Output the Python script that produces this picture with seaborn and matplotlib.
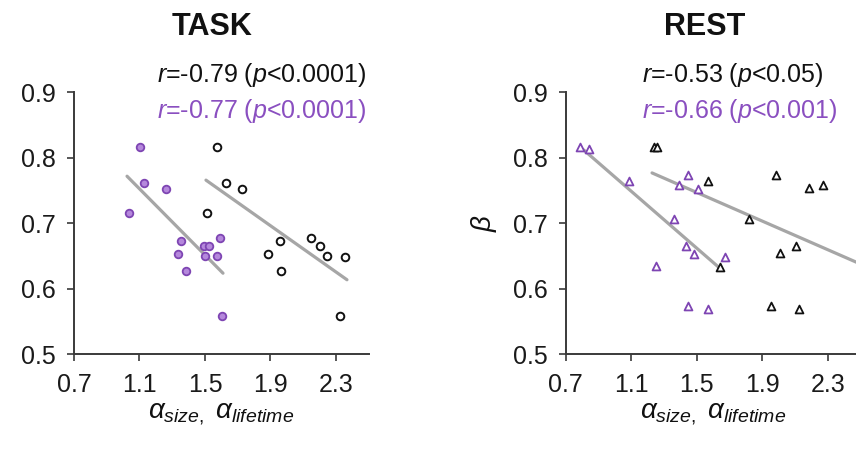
import numpy as np
import seaborn as sns
import matplotlib.pyplot as plt

# valores
task_purple_x = [1.105, 1.125, 1.262, 1.034, 1.355, 1.333, 1.386, 1.492, 1.523, 1.502, 1.593, 1.573, 1.606]
task_purple_y = [0.816, 0.761, 0.752, 0.716, 0.673, 0.654, 0.627, 0.666, 0.665, 0.650, 0.677, 0.650, 0.559]
task_black_x = [1.573, 1.630, 1.726, 1.512, 1.960, 1.887, 1.966, 2.147, 2.200, 2.245, 2.357, 2.323]
task_black_y = [0.816, 0.761, 0.752, 0.716, 0.673, 0.654, 0.627, 0.677, 0.666, 0.650, 0.649, 0.559]

rest_purple_x = [0.790, 0.840, 1.085, 1.254, 1.360, 1.394, 1.447, 1.435, 1.482, 1.508, 1.447, 1.569, 1.671]
rest_purple_y = [0.816, 0.814, 0.765, 0.635, 0.706, 0.759, 0.774, 0.665, 0.654, 0.752, 0.574, 0.569, 0.648]
rest_black_x = [1.240, 1.258, 1.569, 1.822, 1.984, 2.184, 2.270, 2.011, 2.103, 1.956, 2.127, 1.639]
rest_black_y = [0.816, 0.816, 0.765, 0.706, 0.774, 0.754, 0.759, 0.655, 0.665, 0.574, 0.569, 0.633]

# rectas de ajuste (extremos)
task_fit_purple_x = [1.024, 1.610]
task_fit_purple_y = [0.772, 0.624]
task_fit_black_x = [1.506, 2.367]
task_fit_black_y = [0.766, 0.614]
rest_fit_purple_x = [0.810, 1.639]
rest_fit_purple_y = [0.812, 0.632]
rest_fit_black_x = [1.227, 2.500]
rest_fit_black_y = [0.777, 0.638]

x_ticks = [0.7, 1.1, 1.5, 1.9, 2.3]
y_ticks = [0.5, 0.6, 0.7, 0.8, 0.9]

task_r_black = '$r$=-0.79 ($p$<0.0001)'
task_r_purple = '$r$=-0.77 ($p$<0.0001)'
rest_r_black = '$r$=-0.53 ($p$<0.05)'
rest_r_purple = '$r$=-0.66 ($p$<0.001)'

PURPLE_FACE = '#b588dc'
PURPLE_EDGE = '#7e45b3'
PURPLE_TEXT = '#8a4fc0'
GRIS = '#a6a6a6'
EJE = '#3a3a3a'

sns.set_style('white')
plt.rcParams['font.family'] = ['Liberation Sans', 'DejaVu Sans']
plt.rcParams['mathtext.fontset'] = 'custom'
plt.rcParams['mathtext.rm'] = 'Liberation Sans'
plt.rcParams['mathtext.it'] = 'Liberation Sans:italic'
plt.rcParams['text.color'] = '#111111'
plt.rcParams['axes.labelcolor'] = '#111111'

fig = plt.figure(figsize=(8.56, 4.54), dpi=100)
ax1 = fig.add_axes([0.0864, 0.2192, 0.3444, 0.5775])
ax2 = fig.add_axes([0.6609, 0.2192, 0.3444, 0.5775])


def estilo(ax):
    ax.set_xlim(0.7, 2.5)
    ax.set_ylim(0.5, 0.9)
    ax.set_xticks(x_ticks)
    ax.set_yticks(y_ticks)
    ax.set_xticklabels([f'{v:.1f}' for v in x_ticks])
    ax.set_yticklabels([f'{v:.1f}' for v in y_ticks])
    for s in ['top', 'right']:
        ax.spines[s].set_visible(False)
    for s in ['left', 'bottom']:
        ax.spines[s].set_color(EJE)
        ax.spines[s].set_linewidth(1.4)
    ax.tick_params(axis='both', direction='out', length=5, width=1.2, color=EJE,
                   labelsize=18, labelcolor='#1a1a1a', pad=8, left=True, bottom=True)
    ax.set_xlabel(r'$\alpha_{size,}\ \alpha_{lifetime}$', fontsize=20, labelpad=3)
    ax.patch.set_alpha(0)


# TASK
sns.lineplot(x=task_fit_purple_x, y=task_fit_purple_y, color=GRIS, lw=2.3, ax=ax1, zorder=1)
sns.lineplot(x=task_fit_black_x, y=task_fit_black_y, color=GRIS, lw=2.3, ax=ax1, zorder=1)
sns.scatterplot(x=task_purple_x, y=task_purple_y, marker='o', s=30, color=PURPLE_FACE,
                edgecolor=PURPLE_EDGE, linewidth=1.3, ax=ax1, zorder=3)
sns.scatterplot(x=task_black_x, y=task_black_y, marker='o', s=30, color='white',
                edgecolor='#111111', linewidth=1.4, ax=ax1, zorder=3)
estilo(ax1)
ax1.text(0.47, 1.25, 'TASK', transform=ax1.transAxes, ha='center', va='center',
         fontsize=22, fontweight='bold')
ax1.text(0.282, 1.066, task_r_black, transform=ax1.transAxes, ha='left', va='center',
         fontsize=18)
ax1.text(0.282, 0.93, task_r_purple, transform=ax1.transAxes, ha='left', va='center',
         fontsize=18, color=PURPLE_TEXT)

# REST
sns.lineplot(x=rest_fit_purple_x, y=rest_fit_purple_y, color=GRIS, lw=2.3, ax=ax2, zorder=1)
sns.lineplot(x=rest_fit_black_x, y=rest_fit_black_y, color=GRIS, lw=2.3, ax=ax2, zorder=1)
sns.scatterplot(x=rest_purple_x, y=rest_purple_y, marker='^', s=32, color='white',
                edgecolor=PURPLE_EDGE, linewidth=1.3, ax=ax2, zorder=3)
sns.scatterplot(x=rest_black_x, y=rest_black_y, marker='^', s=32, color='white',
                edgecolor='#111111', linewidth=1.3, ax=ax2, zorder=3)
estilo(ax2)
ax2.set_ylabel(r'$\beta$', fontsize=20, labelpad=10)
ax2.text(0.47, 1.25, 'REST', transform=ax2.transAxes, ha='center', va='center',
         fontsize=22, fontweight='bold')
ax2.text(0.258, 1.066, rest_r_black, transform=ax2.transAxes, ha='left', va='center',
         fontsize=18)
ax2.text(0.258, 0.93, rest_r_purple, transform=ax2.transAxes, ha='left', va='center',
         fontsize=18, color=PURPLE_TEXT)

fig.savefig('out.png', dpi=100)
